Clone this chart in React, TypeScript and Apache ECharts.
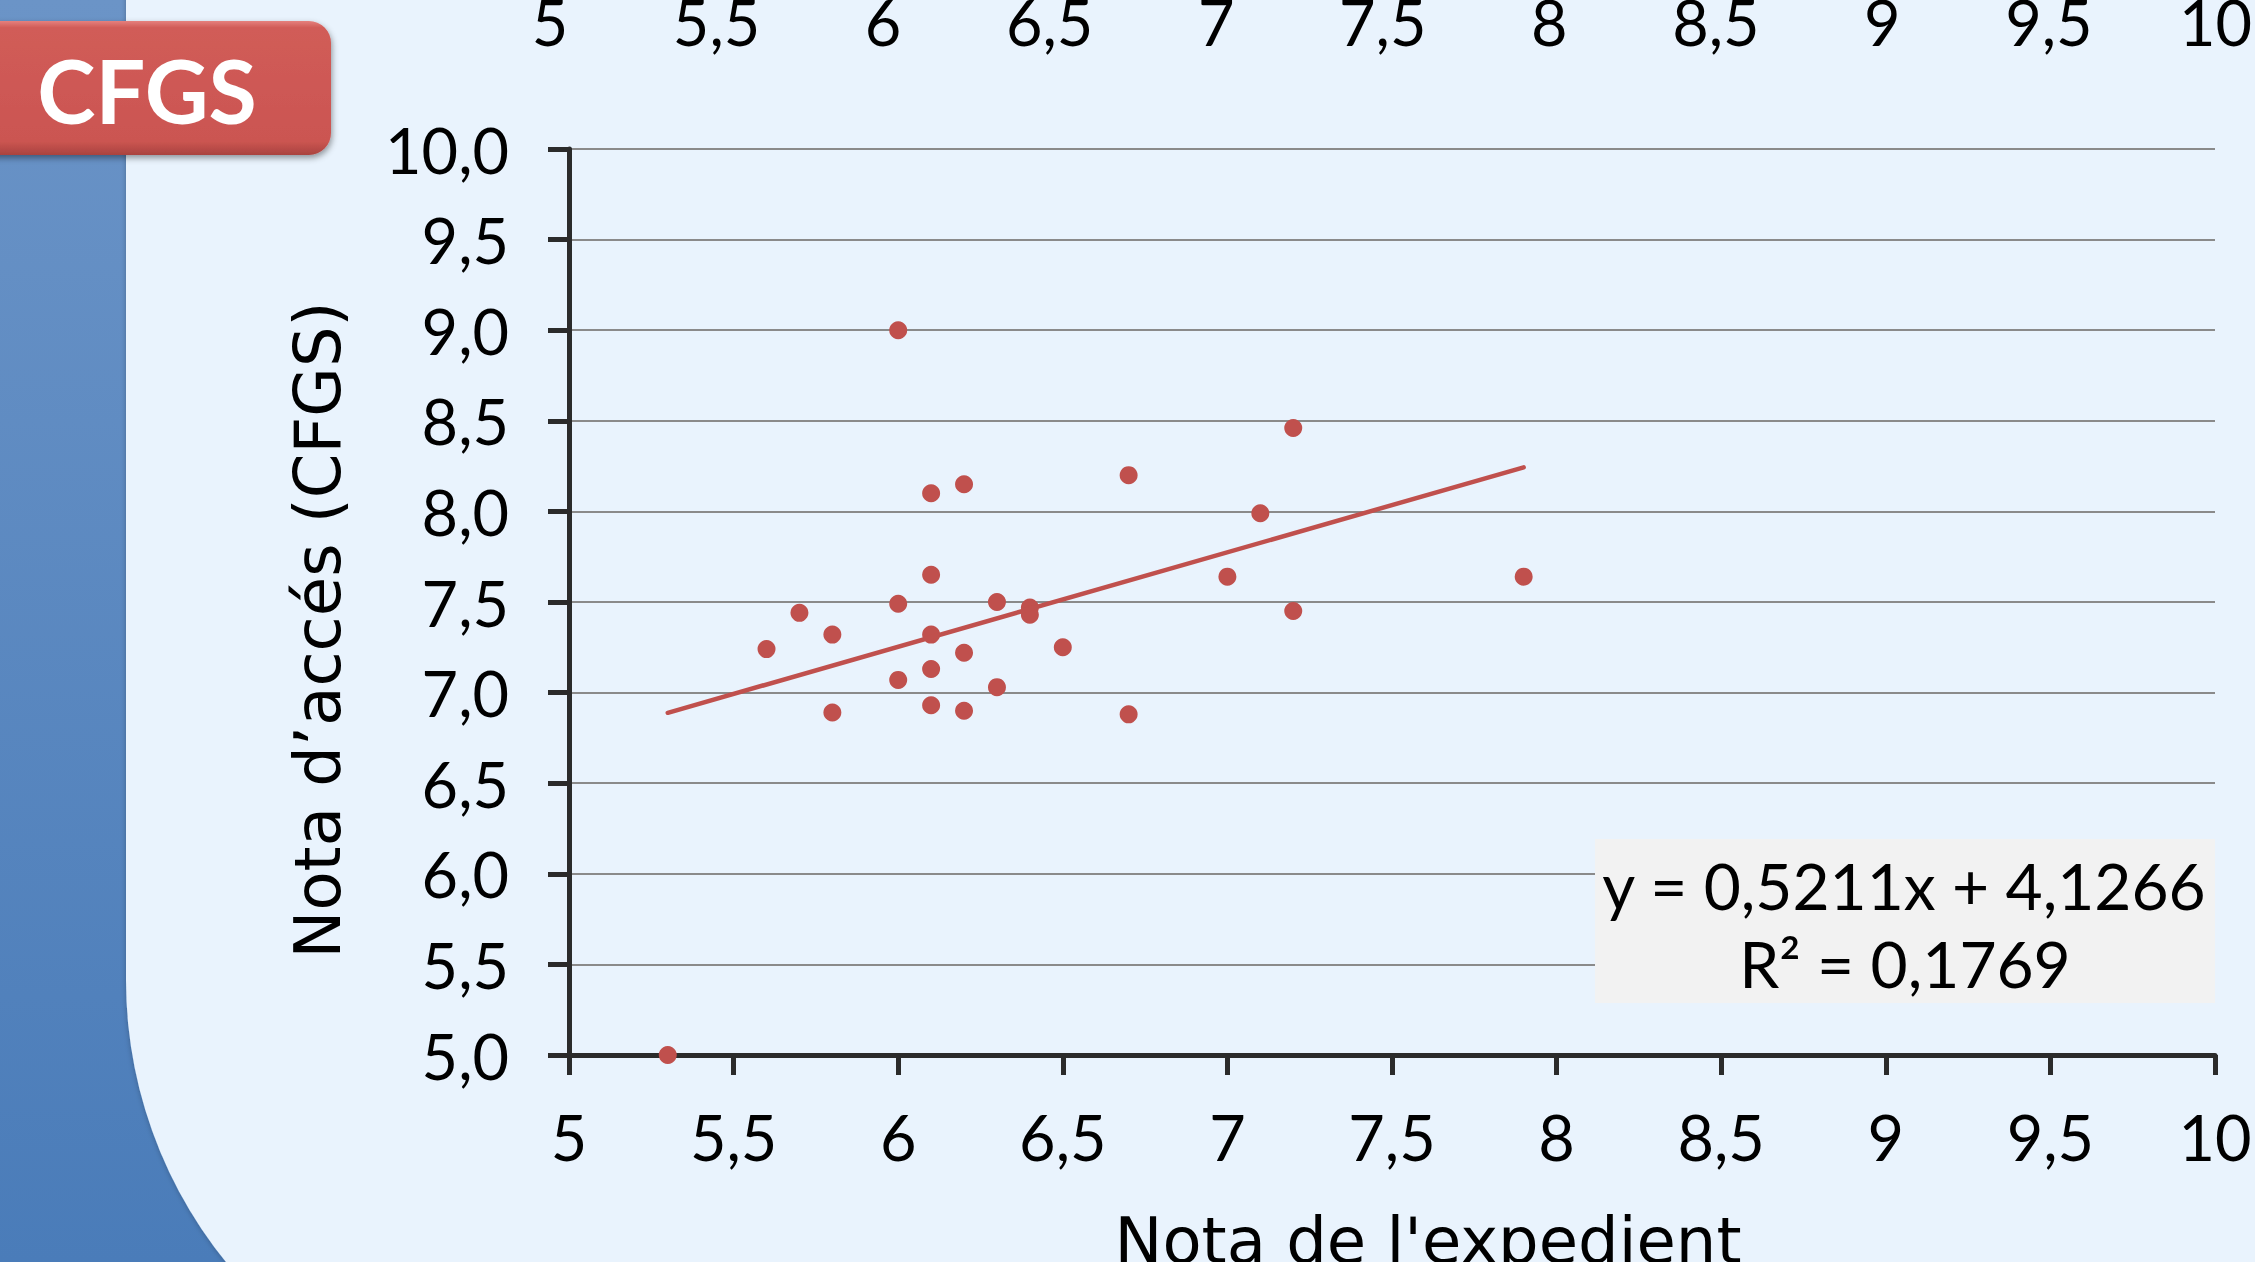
import React, { useEffect, useRef } from "react";
import * as echarts from "echarts";

// Data
const xValues = [6.0, 7.2, 6.7, 6.2, 6.1, 7.1, 7.0, 7.9, 6.1, 6.0, 6.3, 5.7, 6.4, 6.4, 7.2, 5.8, 6.1, 5.6, 6.5, 6.2, 6.1, 6.0, 6.3, 6.1, 5.8, 6.2, 6.7, 5.3];
const yValues = [9.0, 8.46, 8.2, 8.15, 8.1, 7.99, 7.64, 7.64, 7.65, 7.49, 7.5, 7.44, 7.47, 7.43, 7.45, 7.32, 7.32, 7.24, 7.25, 7.22, 7.13, 7.07, 7.03, 6.93, 6.89, 6.9, 6.88, 5.0];
const trendSlope = [0.5211];
const trendIntercept = [4.1266];
const equationLines = ["y = 0,5211x + 4,1266", "R² = 0,1769"];
const badgeText = ["CFGS"];
const xAxisTitle = ["Nota de l'expedient"];
const yAxisTitle = ["Nota d’accés (CFGS)"];

const W = 2255;
const H = 1262;

export default function App() {
  const ref = useRef<HTMLDivElement>(null);
  useEffect(() => {
    if (!ref.current) return;
    const chart = echarts.init(ref.current, undefined, { renderer: "svg", width: W, height: H });
    const pts = xValues.map((x, i) => [x, yValues[i]]);
    const xmin = Math.min(...xValues);
    const xmax = Math.max(...xValues);
    const trend = [xmin, xmax].map((x) => [x, trendSlope[0] * x + trendIntercept[0]]);
    const numFont = "Lato";
    const wordFont = "DejaVu Sans";
    const option: any = {
      animation: false,
      backgroundColor: "#e9f3fd",
      graphic: [
        {
          type: "rect",
          z: -30,
          silent: true,
          shape: { x: 0, y: 0, width: 700, height: H },
          style: {
            fill: new echarts.graphic.LinearGradient(0, 0, 0, 1, [
              { offset: 0, color: "#6b94c7" },
              { offset: 1, color: "#4a7cb9" },
            ]),
          },
        },
        {
          type: "rect",
          z: -25,
          silent: true,
          shape: { x: 126, y: -60, width: W, height: 1488, r: [0, 0, 0, 448] },
          style: {
            fill: "#e9f3fd",
            shadowBlur: 6,
            shadowColor: "rgba(0,0,0,0.35)",
            shadowOffsetX: 1,
          },
        },
        {
          type: "rect",
          z: 20,
          silent: true,
          shape: { x: -30, y: 21, width: 361, height: 134, r: 22 },
          style: {
            fill: new echarts.graphic.LinearGradient(0, 0, 0, 1, [
              { offset: 0, color: "#e5817d" },
              { offset: 0.05, color: "#d15c58" },
              { offset: 0.9, color: "#cb5551" },
              { offset: 1, color: "#a9433f" },
            ]),
            shadowBlur: 6,
            shadowOffsetY: 3,
            shadowOffsetX: 1,
            shadowColor: "rgba(0,0,0,0.4)",
          },
        },
        {
          type: "text",
          z: 21,
          silent: true,
          style: {
            x: 147,
            y: 90,
            text: badgeText[0],
            fill: "#ffffff",
            font: `bold 88px ${numFont}`,
            textAlign: "center",
            textVerticalAlign: "middle",
          },
        },
        {
          type: "rect",
          z: 10,
          silent: true,
          shape: { x: 1595, y: 839, width: 620, height: 164 },
          style: { fill: "#f2f2f2" },
        },
        {
          type: "text",
          z: 11,
          silent: true,
          style: {
            x: 1904,
            y: 885,
            text: equationLines[0],
            fill: "#000000",
            font: `64px ${numFont}`,
            textAlign: "center",
            textVerticalAlign: "middle",
          },
        },
        {
          type: "text",
          z: 11,
          silent: true,
          style: {
            x: 1905,
            y: 963,
            text: equationLines[1],
            fill: "#000000",
            font: `64px ${numFont}`,
            textAlign: "center",
            textVerticalAlign: "middle",
          },
        },
        {
          type: "text",
          z: 11,
          silent: true,
          x: 318,
          y: 630,
          rotation: Math.PI / 2,
          style: {
            x: 0,
            y: 0,
            text: yAxisTitle[0],
            fill: "#000000",
            font: `64px ${wordFont}`,
            textAlign: "center",
            textVerticalAlign: "middle",
          },
        },
        {
          type: "text",
          z: 11,
          silent: true,
          style: {
            x: 1428,
            y: 1241,
            text: xAxisTitle[0],
            fill: "#000000",
            font: `64px ${wordFont}`,
            textAlign: "center",
            textVerticalAlign: "middle",
          },
        },
      ],
      grid: [
        { left: 569, right: 40, top: 149, bottom: 207, containLabel: false },
        { left: 550, right: 38, top: -10, height: 10, containLabel: false },
      ],
      xAxis: [
        {
          type: "value",
          gridIndex: 0,
          min: 5,
          max: 10,
          interval: 0.5,
          axisLine: { show: true, onZero: false, lineStyle: { color: "#2b2b2b", width: 5 } },
          axisTick: { show: true, inside: false, length: 20, lineStyle: { color: "#2b2b2b", width: 5 } },
          splitLine: { show: false },
          axisLabel: {
            show: true,
            margin: 81,
            verticalAlign: "middle",
            color: "#000000",
            fontFamily: numFont,
            fontSize: 63,
            formatter: (v: number) => String(v).replace(".", ","),
          },
        },
        {
          type: "value",
          gridIndex: 1,
          min: 5,
          max: 10,
          interval: 0.5,
          position: "bottom",
          axisLine: { show: false },
          axisTick: { show: false },
          splitLine: { show: false },
          axisLabel: {
            show: true,
            margin: 19,
            verticalAlign: "middle",
            color: "#000000",
            fontFamily: numFont,
            fontSize: 63,
            formatter: (v: number) => String(v).replace(".", ","),
          },
        },
      ],
      yAxis: [
        {
          type: "value",
          gridIndex: 0,
          min: 5,
          max: 10,
          interval: 0.5,
          axisLine: { show: true, onZero: false, lineStyle: { color: "#2b2b2b", width: 5 } },
          axisTick: { show: true, inside: false, length: 21, lineStyle: { color: "#2b2b2b", width: 5 } },
          splitLine: { show: true, lineStyle: { color: "#8a8a8a", width: 2 } },
          axisLabel: {
            show: true,
            margin: 60,
            color: "#000000",
            fontFamily: numFont,
            fontSize: 63,
            formatter: (v: number) => v.toFixed(1).replace(".", ","),
          },
        },
        { type: "value", gridIndex: 1, show: false, min: 0, max: 1 },
      ],
      series: [
        {
          type: "scatter",
          xAxisIndex: 0,
          yAxisIndex: 0,
          data: pts,
          symbol: "circle",
          symbolSize: 18,
          itemStyle: { color: "#c0504d", opacity: 1 },
          z: 3,
          silent: true,
        },
        {
          type: "line",
          xAxisIndex: 0,
          yAxisIndex: 0,
          data: trend,
          showSymbol: false,
          symbol: "none",
          lineStyle: { color: "#c0504d", width: 4.5, cap: "round" },
          z: 4,
          silent: true,
        },
      ],
    };
    chart.setOption(option);
    return () => chart.dispose();
  }, []);
  return <div ref={ref} style={{ position: "absolute", left: 0, top: 0, width: W, height: H }} />;
}
